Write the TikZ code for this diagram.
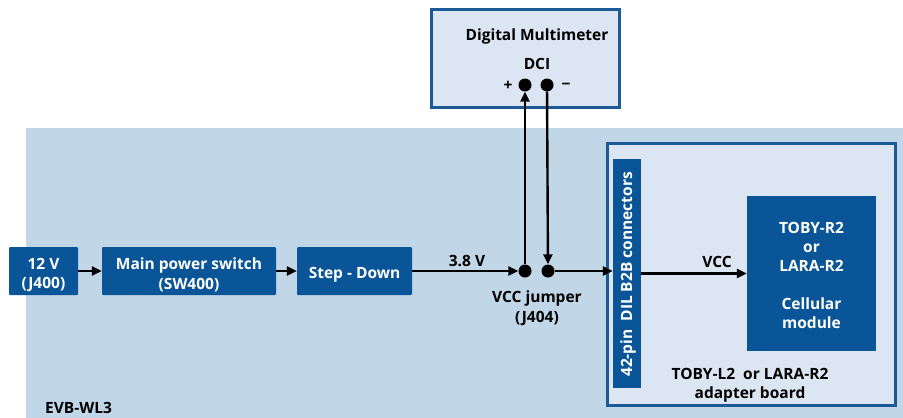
\documentclass[tikz,border=0pt]{standalone}
\usepackage{fontspec}
\setmainfont{Open Sans}
\usetikzlibrary{arrows.meta}
\definecolor{bgblue}{HTML}{C1D6E7}
\definecolor{paleblue}{HTML}{DCE6F2}
\definecolor{darkblue}{HTML}{0A5597}
\definecolor{edgeblue}{HTML}{1B5A97}
\newcommand{\fnt}{\bfseries\fontsize{15.5}{19.5}\selectfont}
\tikzset{
  darkbox/.style={fill=darkblue, draw=none, rounded corners=1pt, text=white, font=\fnt, align=center, inner sep=0pt},
  panel/.style={fill=paleblue, draw=edgeblue, line width=3pt, inner sep=0pt},
  lbl/.style={font=\fnt, text=black, align=center, inner sep=0pt},
  dot/.style={circle, fill=black, inner sep=0pt, minimum size=13pt},
  wire/.style={line width=2.4pt, -{Triangle[length=10pt,width=9pt]}},
}
\begin{document}
\begin{tikzpicture}[x=1pt,y=-1pt]
\useasboundingbox (0,0) rectangle (903,418);
% background board
\fill[bgblue] (26,128) rectangle (903,418);
% multimeter
\node[panel, minimum width=188pt, minimum height=98pt] (dmm) at (525,58) {};
\node[lbl] (dmmt) at (537,36) {Digital Multimeter};
\node[lbl] (dci) at (537,64) {DCI};
\node[lbl] (plus) at (508,86) {+};
\node[lbl] (minus) at (566,86) {\char"2212};
\node[dot] (t1) at (525,85) {};
\node[dot] (t2) at (547,85) {};
% adapter board
\node[panel, minimum width=288pt, minimum height=262pt] (adapt) at (751,274) {};
\node[darkbox, rounded corners=0pt, minimum width=28pt, minimum height=229pt] (conn) at (627,273.5) {};
\node[rotate=90, text=white, font=\fnt, inner sep=0pt] (connt) at (628,274.5) {42-pin\ \ DIL B2B connectors};
\node[darkbox, rounded corners=0pt, minimum width=129pt, minimum height=155pt] (mod) at (811.5,273.5) {};
\node[text=white, font=\bfseries\fontsize{15.5}{19}\selectfont, align=center, inner sep=0pt] (modt) at (811.5,275) {TOBY-R2\\or\\LARA-R2\\[19pt]Cellular\\module};
\node[lbl] (adt) at (750,385) {TOBY-L2\ \ or LARA-R2\\adapter board};
% left chain
\node[darkbox, text height=39pt, minimum width=69pt, minimum height=48pt] (v12) at (43.5,271) {12 V\\(J400)};
\node[darkbox, text height=39pt, minimum width=174pt, minimum height=48pt] (msw) at (189,271) {Main power switch\\(SW400)};
\node[darkbox, text height=19pt, minimum width=115pt, minimum height=48pt] (sd) at (354.5,271) {Step - Down};
\node[dot] (b1) at (525,271) {};
\node[dot] (b2) at (548,271) {};
\node[lbl] (v38) at (467,261) {3.8 V};
\node[lbl] (jmp) at (537,308) {VCC jumper\\(J404)};
\node[lbl] (vcc) at (717,262) {VCC};
\node[lbl, anchor=west] (evb) at (45,408) {EVB-WL3};
% wires
\draw[wire] (v12) -- (msw);
\draw[wire] (msw) -- (sd);
\draw[wire] (sd) -- (b1);
\draw[wire] (b1) -- (t1);
\draw[wire] (t2) -- (b2);
\draw[wire] (b2) -- (b2 -| conn.west);
\draw[wire] (conn.east) -- (conn.east -| mod.west);
\end{tikzpicture}
\end{document}
